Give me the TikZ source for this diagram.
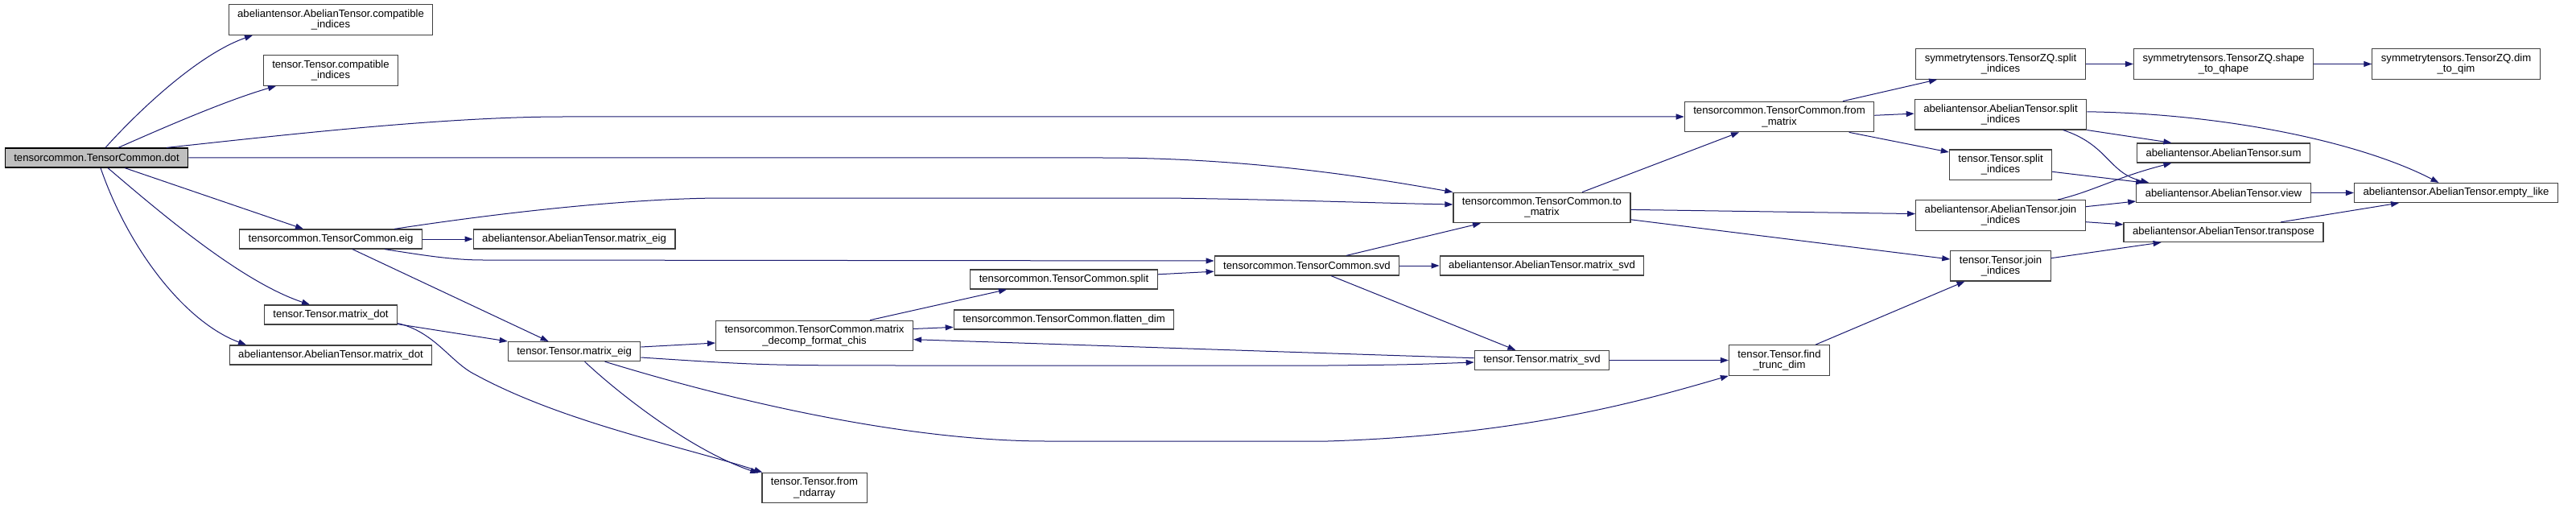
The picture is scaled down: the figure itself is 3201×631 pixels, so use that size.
\documentclass[tikz,border=0pt]{standalone}
\usepackage{fontspec}
\setmainfont{Liberation Sans}
\usepackage{tikz}
\usetikzlibrary{arrows.meta}
\definecolor{EdgeBlue}{RGB}{25,25,112}
\definecolor{NodeBorder}{RGB}{64,64,64}
\definecolor{RootFill}{RGB}{191,191,191}

\begin{document}
\begin{tikzpicture}[x=1pt, y=-1pt,
    fn/.style={draw=NodeBorder, line width=1.2pt, fill=white, inner xsep=11pt, inner ysep=0pt,
      minimum height=24pt, align=center, font=\fontsize{13.15}{13.3}\selectfont},
    fntwo/.style={fn, minimum height=37.5pt},
    root/.style={fn, draw=black, fill=RootFill},
    call/.style={draw=EdgeBlue, line width=1pt, -{Triangle[length=10pt,width=7pt]}}]
      % Canvas
      \fill[white] (0,0) rectangle (3201,631);
      \useasboundingbox (0,0) rectangle (3201,631);

      % Functions
      \node[root] (dot) at (120,196) {tensorcommon.TensorCommon.dot};
      \node[fntwo] (acompat) at (411,24.5) {abeliantensor.AbelianTensor.compatible\\\_indices};
      \node[fntwo] (tcompat) at (411,87.5) {tensor.Tensor.compatible\\\_indices};
      \node[fn] (eig) at (411,297) {tensorcommon.TensorCommon.eig};
      \node[fn] (tmdot) at (411,391) {tensor.Tensor.matrix\_dot};
      \node[fn] (amdot) at (411,441) {abeliantensor.AbelianTensor.matrix\_dot};
      \node[fn] (ameig) at (713.6,297) {abeliantensor.AbelianTensor.matrix\_eig};
      \node[fn] (tmeig) at (713.6,436.6) {tensor.Tensor.matrix\_eig};
      \node[fntwo] (chis) at (1012,417) {tensorcommon.TensorCommon.matrix\\\_decomp\_format\_chis};
      \node[fntwo] (ndarray) at (1012,606) {tensor.Tensor.from\\\_ndarray};
      \node[fn] (split) at (1322,347) {tensorcommon.TensorCommon.split};
      \node[fn] (flatten) at (1322,397) {tensorcommon.TensorCommon.flatten\_dim};
      \node[fn] (svd) at (1624,330) {tensorcommon.TensorCommon.svd};
      \node[fntwo] (tomat) at (1916,258) {tensorcommon.TensorCommon.to\\\_matrix};
      \node[fn] (amsvd) at (1916,330) {abeliantensor.AbelianTensor.matrix\_svd};
      \node[fn] (tmsvd) at (1916,447.5) {tensor.Tensor.matrix\_svd};
      \node[fntwo] (frommat) at (2211,145) {tensorcommon.TensorCommon.from\\\_matrix};
      \node[fntwo] (findtr) at (2211,447.5) {tensor.Tensor.find\\\_trunc\_dim};
      \node[fntwo] (symsplit) at (2486,79.5) {symmetrytensors.TensorZQ.split\\\_indices};
      \node[fntwo] (asplit) at (2486,142.2) {abeliantensor.AbelianTensor.split\\\_indices};
      \node[fntwo] (tsplit) at (2486,204.7) {tensor.Tensor.split\\\_indices};
      \node[fntwo] (ajoin) at (2486,267.4) {abeliantensor.AbelianTensor.join\\\_indices};
      \node[fntwo] (tjoin) at (2486,330.2) {tensor.Tensor.join\\\_indices};
      \node[fntwo] (shape) at (2763,79.5) {symmetrytensors.TensorZQ.shape\\\_to\_qhape};
      \node[fn] (sum) at (2763,190) {abeliantensor.AbelianTensor.sum};
      \node[fn] (view) at (2763,239.5) {abeliantensor.AbelianTensor.view};
      \node[fn] (transp) at (2763,288.5) {abeliantensor.AbelianTensor.transpose};
      \node[fntwo] (dimq) at (3052,79.5) {symmetrytensors.TensorZQ.dim\\\_to\_qim};
      \node[fn] (empty) at (3052,239.5) {abeliantensor.AbelianTensor.empty\_like};

      % Calls from dot
      \draw[call] ([xshift=11pt]dot.north) .. controls (170,140) and (245,68) .. ([xshift=-97pt]acompat.south);
      \draw[call] ([xshift=27pt]dot.north) .. controls (200,160) and (280,125) .. ([xshift=-68pt]tcompat.south);
      \draw[call] ([xshift=87pt]dot.north) .. controls (350,168) and (550,145) .. (700,145) -- (frommat.west);
      \draw[call] (dot.east) -- (1370,196) .. controls (1550,196) and (1700,220) .. (tomat.north west);
      \draw[call] ([xshift=35pt]dot.south) -- ([xshift=-34pt]eig.north);
      \draw[call] ([xshift=14pt]dot.south) .. controls (200,265) and (300,350) .. ([xshift=-26pt]tmdot.north);
      \draw[call] ([xshift=5pt]dot.south) .. controls (160,310) and (230,400) .. ([xshift=-105pt]amdot.north);

      % Calls from eig and matrix_dot
      \draw[call] ([xshift=79pt]eig.north) .. controls (650,260) and (800,246) .. (900,246) -- (1450,246)
        .. controls (1600,248) and (1700,252) .. ([yshift=4pt]tomat.west);
      \draw[call] (eig.east) -- (ameig.west);
      \draw[call] ([xshift=67pt]eig.south) .. controls (520,316) and (560,323) .. (600,323) -- ([yshift=6pt]svd.west);
      \draw[call] ([xshift=27pt]eig.south) -- ([xshift=-32pt]tmeig.north);
      \draw[call] ([yshift=1pt]tmdot.south east) -- (tmeig.north west);
      \draw[call] ([yshift=2pt]tmdot.south east) .. controls (540,412) and (560,450) .. (590,465)
        .. controls (700,525) and (850,555) .. ([xshift=1pt]ndarray.north west);

      % Calls from matrix_eig
      \draw[call] ([xshift=13pt]tmeig.south) .. controls (770,490) and (860,560) .. ([xshift=-4pt,yshift=-1pt]ndarray.north west);
      \draw[call] ([yshift=5.6pt]tmeig.east) -- ([yshift=-9pt]chis.west);
      \draw[call] ([yshift=-7.4pt]tmeig.east) .. controls (950,454) .. (1150,454) -- (1650,454)
        .. controls (1750,453) .. ([yshift=-2.5pt]tmsvd.west);
      \draw[call] ([xshift=38pt]tmeig.south) .. controls (950,510) and (1150,548) .. (1300,548) -- (1650,548)
        .. controls (1900,540) and (2050,495) .. (findtr.south west);

      % Middle columns
      \draw[call] ([yshift=2.8pt]tmsvd.west) .. controls (1650,439) and (1450,432) .. ([yshift=-4.7pt]chis.east);
      \draw[call] ([xshift=69pt]chis.north) -- ([xshift=-71pt]split.south);
      \draw[call] ([yshift=8.5pt]chis.east) -- ([yshift=-9.4pt]flatten.west);
      \draw[call] ([yshift=6.2pt]split.east) -- ([yshift=-7.2pt]svd.west);
      \draw[call] ([xshift=49pt]svd.north) -- ([xshift=-76pt]tomat.south);
      \draw[call] (svd.east) -- (amsvd.west);
      \draw[call] ([xshift=30pt]svd.south) -- ([xshift=-32.6pt]tmsvd.north);
      \draw[call] (tmsvd.east) -- (findtr.west);
      \draw[call] ([xshift=50pt]tomat.north) -- ([xshift=-50pt]frommat.south);
      \draw[call] ([yshift=-2.4pt]tomat.east) -- ([yshift=1.8pt]ajoin.west);
      \draw[call] ([yshift=-14.8pt]tomat.east) -- ([yshift=8.2pt]tjoin.west);
      \draw[call] ([xshift=45pt]findtr.north) -- ([xshift=-44.5pt]tjoin.south);

      % Right columns
      \draw[call] ([xshift=79pt]frommat.north) -- ([xshift=-79pt]symsplit.south);
      \draw[call] ([yshift=1.7pt]frommat.east) -- ([yshift=1.1pt]asplit.west);
      \draw[call] ([xshift=86.6pt]frommat.south) -- ([yshift=15.7pt]tsplit.west);
      \draw[call] (symsplit.east) -- (shape.west);
      \draw[call] (shape.east) -- (dimq.west);
      \draw[call] ([yshift=3.4pt]asplit.east) .. controls (2760,141) and (2930,175) .. ([xshift=-21.5pt]empty.north);
      \draw[call] (asplit.south east) -- ([xshift=-64.6pt]sum.north);
      \draw[call] ([xshift=77.6pt]asplit.south) .. controls (2620,180) and (2620,215) .. ([xshift=16pt]view.north west);
      \draw[call] ([yshift=-8.6pt]tsplit.east) -- ([xshift=10pt]view.north west);
      \draw[call] ([xshift=71pt]ajoin.north) .. controls (2600,238) and (2630,220) .. ([xshift=-64.6pt]sum.south);
      \draw[call] ([yshift=10.7pt]ajoin.east) -- ([yshift=-10.5pt]view.west);
      \draw[call] ([yshift=-8.3pt]ajoin.east) -- ([yshift=9.6pt]transp.west);
      \draw[call] ([yshift=9.5pt]tjoin.east) -- ([xshift=-77.4pt]transp.south);
      \draw[call] (view.east) -- (empty.west);
      \draw[call] ([xshift=71pt]transp.north) -- ([xshift=-71pt]empty.south);
\end{tikzpicture}
\end{document}
